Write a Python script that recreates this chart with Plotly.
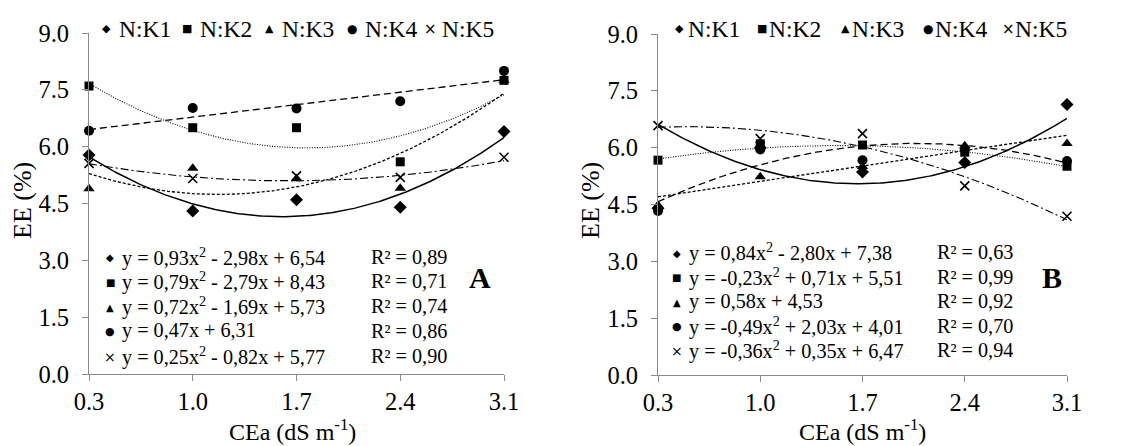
import numpy as np
import plotly.graph_objects as go

# ---- data -------------------------------------------------------------
cea = [0.3, 1.0, 1.7, 2.4, 3.1]
cea_labels = ["0.3", "1.0", "1.7", "2.4", "3.1"]
y_ticks = [0.0, 1.5, 3.0, 4.5, 6.0, 7.5, 9.0]
series_names = ["N:K1", "N:K2", "N:K3", "N:K4", "N:K5"]

# panel A – observed EE (%)
a_k1 = [5.78, 4.30, 4.60, 4.40, 6.40]
a_k2 = [7.60, 6.50, 6.50, 5.60, 7.75]
a_k3 = [4.89, 5.43, 5.15, 4.90, 7.75]
a_k4 = [6.42, 7.02, 7.01, 7.20, 8.00]
a_k5 = [5.56, 5.16, 5.23, 5.19, 5.72]

# panel A – regression coefficients [x², x, constant] and R²
a_coef_k1 = [0.93, -2.98, 6.54]
a_coef_k2 = [0.79, -2.79, 8.43]
a_coef_k3 = [0.72, -1.69, 5.73]
a_coef_k4 = [0.00, 0.47, 6.31]
a_coef_k5 = [0.25, -0.82, 5.77]
a_r2 = [0.89, 0.71, 0.74, 0.86, 0.90]

# panel B – observed EE (%)
b_k1 = [4.40, 6.00, 5.36, 5.61, 7.14]
b_k2 = [5.67, 6.10, 6.07, 5.88, 5.51]
b_k3 = [4.48, 5.23, 5.50, 6.05, 6.11]
b_k4 = [4.33, 5.95, 5.67, 5.95, 5.65]
b_k5 = [6.58, 6.24, 6.37, 4.99, 4.19]

# panel B – regression coefficients [x², x, constant] and R²
b_coef_k1 = [0.84, -2.80, 7.38]
b_coef_k2 = [-0.23, 0.71, 5.51]
b_coef_k3 = [0.00, 0.58, 4.53]
b_coef_k4 = [-0.49, 2.03, 4.01]
b_coef_k5 = [-0.36, 0.35, 6.47]
b_r2 = [0.63, 0.99, 0.92, 0.70, 0.94]

# ---- styling ------------------------------------------------------------
W, H = 1122, 446
SERIF = "Liberation Serif, Times New Roman, serif"
GLYPH_FONT = "DejaVu Sans"
AXIS_GREY = "#8a8a8a"

symbols = ["diamond", "square", "triangle-up", "circle", "x-thin"]
marker_sizes = [10, 9, 10, 10, 9]
glyphs = ["\u25C6", "\u25A0", "\u25B2", "\u25CF", "\u00D7"]
glyph_sizes = [11, 11, 11, 12, 15]
dashes = ["solid", "1px,1.5px", "3px,2px", "7px,4px", "8px,3px,2px,3px"]
line_widths = [1.5, 1.1, 1.3, 1.3, 1.1]


def px_x(p):
    return p / W


def px_y(p):
    return 1 - p / H


def num(v):
    return f"{abs(v):.2f}".replace(".", ",")


def equation(coef):
    a, b, c = coef
    parts = []
    if a != 0:
        parts.append(("-" if a < 0 else "") + num(a) + "x<sup>2</sup>")
        parts.append(("- " if b < 0 else "+ ") + num(b) + "x")
    else:
        parts.append(("-" if b < 0 else "") + num(b) + "x")
    parts.append(("- " if c < 0 else "+ ") + num(c))
    return "y = " + " ".join(parts)


panels = [
    dict(values=[a_k1, a_k2, a_k3, a_k4, a_k5],
         coefs=[a_coef_k1, a_coef_k2, a_coef_k3, a_coef_k4, a_coef_k5],
         r2=a_r2, xa="x", ya="y", tag="A",
         dom=(89, 504), ydom=(374, 33),
         leg_glyph=[106.7, 186.7, 269.3, 351.7, 430.0],
         leg_text=[116.5, 197.5, 280.0, 362.5, 440.0],
         eq_glyph=110.0, eq_text=120.0, r2_text=368.5,
         eq_rows=[256.7, 281.4, 306.1, 330.8, 355.5],
         tag_pos=(480, 277), ytitle_x=22, xtitle_x=292),
    dict(values=[b_k1, b_k2, b_k3, b_k4, b_k5],
         coefs=[b_coef_k1, b_coef_k2, b_coef_k3, b_coef_k4, b_coef_k5],
         r2=b_r2, xa="x2", ya="y2", tag="B",
         dom=(658, 1067), ydom=(375, 34),
         leg_glyph=[679.0, 761.7, 845.0, 928.3, 1008.3],
         leg_text=[685.5, 766.5, 849.5, 932.5, 1012.5],
         eq_glyph=676.7, eq_text=686.5, r2_text=934.5,
         eq_rows=[252.0, 276.5, 301.0, 325.5, 350.0],
         tag_pos=(1052, 277), ytitle_x=590, xtitle_x=862),
]

fig = go.Figure()
annotations = []
xfine = np.linspace(cea[0], cea[-1], 200)

for p in panels:
    for i in range(5):
        a, b, c = p["coefs"][i]
        fig.add_trace(go.Scatter(
            x=xfine, y=a * xfine ** 2 + b * xfine + c,
            mode="lines", xaxis=p["xa"], yaxis=p["ya"],
            line=dict(color="black", width=line_widths[i], dash=dashes[i]),
            hoverinfo="skip", showlegend=False, cliponaxis=False,
        ))
    for i in range(5):
        is_x = symbols[i] == "x-thin"
        fig.add_trace(go.Scatter(
            x=cea, y=p["values"][i], mode="markers",
            xaxis=p["xa"], yaxis=p["ya"], name=series_names[i],
            marker=dict(symbol=symbols[i], size=marker_sizes[i], color="black",
                        line=dict(color="black", width=1.6 if is_x else 0)),
            showlegend=False, cliponaxis=False,
        ))

    # legend row at the top of each panel
    for i in range(5):
        annotations.append(dict(
            x=px_x(p["leg_glyph"][i]), y=px_y(28.5), xref="paper", yref="paper",
            text=glyphs[i], showarrow=False, xanchor="center", yanchor="middle",
            font=dict(family=GLYPH_FONT, size=glyph_sizes[i], color="black")))
        annotations.append(dict(
            x=px_x(p["leg_text"][i]), y=px_y(28.5), xref="paper", yref="paper",
            text=series_names[i], showarrow=False, xanchor="left", yanchor="middle",
            font=dict(family=SERIF, size=23.5, color="black")))

    # regression equations and R²
    for i in range(5):
        row = p["eq_rows"][i]
        annotations.append(dict(
            x=px_x(p["eq_glyph"]), y=px_y(row + 1), xref="paper", yref="paper",
            text=glyphs[i], showarrow=False, xanchor="center", yanchor="middle",
            font=dict(family=GLYPH_FONT, size=glyph_sizes[i] - 1, color="black")))
        annotations.append(dict(
            x=px_x(p["eq_text"]), y=px_y(row), xref="paper", yref="paper",
            text=equation(p["coefs"][i]), showarrow=False,
            xanchor="left", yanchor="middle",
            font=dict(family=SERIF, size=20.2, color="black")))
        annotations.append(dict(
            x=px_x(p["r2_text"]), y=px_y(row), xref="paper", yref="paper",
            text="R\u00B2 = " + num(p["r2"][i]), showarrow=False,
            xanchor="left", yanchor="middle",
            font=dict(family=SERIF, size=20.2, color="black")))

    # panel letter
    annotations.append(dict(
        x=px_x(p["tag_pos"][0]), y=px_y(p["tag_pos"][1]), xref="paper", yref="paper",
        text="<b>" + p["tag"] + "</b>", showarrow=False,
        xanchor="center", yanchor="middle",
        font=dict(family=SERIF, size=30, color="black")))

    # axis titles
    annotations.append(dict(
        x=px_x(p["ytitle_x"]), y=px_y(201), xref="paper", yref="paper",
        text="EE (%)", showarrow=False, textangle=-90,
        xanchor="center", yanchor="middle",
        font=dict(family=SERIF, size=26, color="black")))
    annotations.append(dict(
        x=px_x(p["xtitle_x"]), y=0, xref="paper", yref="paper",
        text="CEa (dS m<sup>-1</sup>)", showarrow=False,
        xanchor="center", yanchor="bottom", borderpad=0,
        font=dict(family=SERIF, size=24, color="black")))

axis_common = dict(
    showline=True, linecolor=AXIS_GREY, linewidth=1,
    ticks="outside", ticklen=6, tickcolor=AXIS_GREY, tickwidth=1,
    showgrid=False, zeroline=False, fixedrange=True, automargin=False,
    tickfont=dict(family=SERIF, size=24.5, color="black"),
)

layout_axes = {}
for k, p in enumerate(panels):
    sx = "" if k == 0 else "2"
    layout_axes["xaxis" + sx] = dict(
        axis_common, domain=[px_x(p["dom"][0]), px_x(p["dom"][1])],
        range=[cea[0], cea[-1]], tickmode="array", tickvals=cea,
        ticktext=cea_labels, anchor="y" + sx, ticklabelstandoff=0)
    layout_axes["yaxis" + sx] = dict(
        axis_common, domain=[px_y(p["ydom"][0]), px_y(p["ydom"][1])],
        range=[0, 9], tickmode="array", tickvals=y_ticks,
        ticktext=[f"{v:.1f}" for v in y_ticks], anchor="x" + sx,
        ticklabelstandoff=8)

fig.update_layout(
    width=W, height=H, autosize=False,
    margin=dict(l=0, r=0, t=0, b=0, pad=0, autoexpand=False),
    paper_bgcolor="white", plot_bgcolor="white",
    showlegend=False,
    annotations=annotations,
    **layout_axes,
)

fig.write_html("out.html", config={"displayModeBar": False})
